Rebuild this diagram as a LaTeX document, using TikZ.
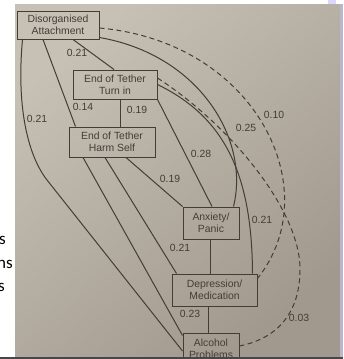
\documentclass[tikz,border=0pt]{standalone}
\usepackage{fontspec}
\setmainfont{Liberation Sans}
\newfontfamily\slidefont{Carlito}
\definecolor{ink}{HTML}{433D37}
\definecolor{bgLight}{HTML}{C6C0B5}
\definecolor{bgDark}{HTML}{A1998E}
\definecolor{strip}{HTML}{BAB6CE}
\tikzset{
  box/.style={draw=ink, line width=1pt, inner sep=0pt, align=center, text=ink,
    font=\fontsize{10.4}{11.6}\selectfont},
  lbl/.style={inner sep=0pt, text=ink, font=\fontsize{10.4}{11.6}\selectfont},
  link/.style={draw=ink, line width=1pt},
  dlink/.style={draw=ink, line width=1pt, dash pattern=on 5pt off 3.5pt},
  slide/.style={inner sep=0pt, anchor=base east, font=\slidefont\fontsize{17}{20}\selectfont, text=black}
}
\begin{document}
\begin{tikzpicture}[x=1pt,y=1pt]
\useasboundingbox (0,0) rectangle (343,-359);
\fill[white] (0,0) rectangle (343,-359);
\shade[top color=bgLight, bottom color=bgDark, shading angle=40] (15,-4) rectangle (340,-357);
\fill[strip] (340,-4) rectangle (343,-357);
\fill[white!85!blue] (328,0) rectangle (336,-4);

% slide text fragments
\node[slide] (s1) at (6,-244) {s};
\node[slide] (s2) at (13,-268) {ns};
\node[slide] (s3) at (5,-291) {s};

% boxes
\node[box, minimum width=82pt, minimum height=28pt] (DA) at (58,-25) {Disorganised\\Attachment};
\node[box, minimum width=84pt, minimum height=29pt] (TI) at (115,-84.5) {End of Tether\\Turn in};
\node[box, minimum width=86pt, minimum height=30pt] (HS) at (112,-142) {End of Tether\\Harm Self};
\node[box, minimum width=56pt, minimum height=32pt] (AP) at (211,-223) {Anxiety/\\Panic};
\node[box, minimum width=85pt, minimum height=32pt] (DM) at (214.5,-290) {Depression/\\Medication};
\node[box, minimum width=56pt, minimum height=32pt] (AL) at (211,-349) {Alcohol\\Problems};

% straight connectors
\draw[link] ([xshift=15pt]DA.south) -- ([xshift=-1pt]TI.north);
\draw[link] ([xshift=-15pt]DA.south) -- ([xshift=7pt]HS.north west);
\draw[link] ([xshift=5pt]TI.south) -- ([xshift=5pt]TI.south |- HS.north);
\draw[link] (TI.south east) -- ([xshift=1pt]AP.north);
\draw[link] ([xshift=14pt]HS.south) -- (AP.north west);
\draw[link] ([xshift=-7pt]HS.south) -- ([xshift=5pt]DM.north west);
\draw[link] ([xshift=-29pt]HS.south) -- ([yshift=-3pt]AL.north west);
\draw[link] ([xshift=-1pt]AP.south) -- ([xshift=-1pt]AP.south |- DM.north);
\draw[link] ([xshift=-3pt]AL.north) -- ([xshift=-3pt]AL.north |- DM.south);

% curved connectors
\draw[link] ([xshift=6pt]DA.south west) .. controls (16,-110) and (29,-157) .. (47,-180) -- ([yshift=-2pt]AL.west);
\draw[link] ([yshift=2pt]DA.south east) .. controls (200,-55) and (250,-140) .. ([xshift=-6pt]AP.north east);
\draw[link] (TI.east) .. controls (222,-116) and (252,-170) .. ([xshift=-5pt]DM.north east);
\draw[dlink] ([yshift=-3pt]DA.east) .. controls (256,-42) and (328,-190) .. ([yshift=-5pt]DM.north east);
\draw[dlink] ([yshift=6.5pt]TI.east) .. controls (230,-125) and (300,-210) .. (300,-269)
   .. controls (300,-320) and (270,-340) .. ([yshift=3pt]AL.east);

% labels
\node[lbl] (l1) at (77,-53) {0.21};
\node[lbl] (l2) at (83,-107) {0.14};
\node[lbl] (l3) at (137,-110) {0.19};
\node[lbl] (l4) at (37,-119) {0.21};
\node[lbl] (l5) at (201,-154) {0.28};
\node[lbl] (l6) at (170,-179) {0.19};
\node[lbl] (l7) at (246,-128) {0.25};
\node[lbl] (l8) at (274,-115) {0.10};
\node[lbl] (l9) at (262,-220) {0.21};
\node[lbl] (l10) at (180,-248) {0.21};
\node[lbl] (l11) at (190,-314) {0.23};
\node[lbl] (l12) at (299,-318) {0.03};

% bottom band
\fill[black!72] (0,-357) rectangle (343,-359);
\end{tikzpicture}
\end{document}
